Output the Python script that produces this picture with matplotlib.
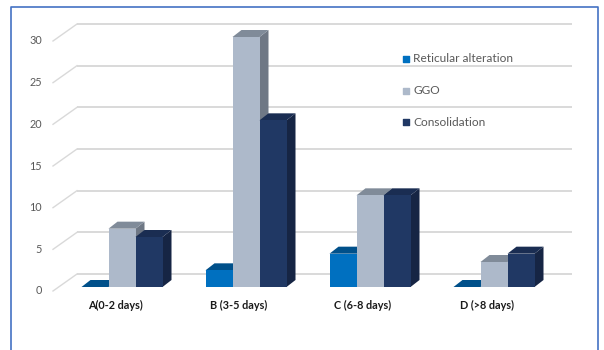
import numpy as np
import matplotlib
matplotlib.use('Agg')
import matplotlib.pyplot as plt
from matplotlib.patches import Polygon

categories = ['A(0-2 days)', 'B (3-5 days)', 'C (6-8 days)', 'D (>8 days)']
series_names = ['Reticular alteration', 'GGO', 'Consolidation']
reticular = [0, 2, 4, 0]
ggo = [7, 30, 11, 3]
consolidation = [6, 20, 11, 4]
yticks = [0, 5, 10, 15, 20, 25, 30]

series = [reticular, ggo, consolidation]
# front, top, side colours of each series
colors = [('#0070c0', '#00508a', '#004a7f'),
          ('#adb9ca', '#808b99', '#6f7885'),
          ('#203864', '#1a2d52', '#162544')]

plt.rcParams['font.family'] = ['Lato', 'DejaVu Sans']

fig = plt.figure(figsize=(6.04, 3.5), dpi=100)
ax = fig.add_axes([0, 0, 1, 1])

# pixel geometry of the reference -> data units
px_x = 1 / 124.0   # category units per pixel
px_y = 0.12        # value units per pixel
ax.set_xlim(-122 * px_x, (604 - 122) * px_x)
ax.set_ylim((287 - 350) * px_y, 287 * px_y)
ax.axis('off')

# back wall gridlines with diagonal to the front floor
gx0 = (53 - 122) * px_x
gx1 = (77 - 122) * px_x
gx2 = (572 - 122) * px_x
for v in yticks:
    yb = v + 13 * px_y
    ax.plot([gx1, gx2], [yb, yb], color='#d9d9d9', lw=1.4, zorder=1,
            solid_capstyle='butt')
    ax.plot([gx0, gx1], [v - 4 * px_y, yb], color='#d9d9d9', lw=1.0, zorder=1)
    ax.text(-80 * px_x, v - 4 * px_y, str(v), ha='right', va='center',
            fontsize=7.8, color='#595959')

# 3d-ish bars
w = 27 * px_x
ddx = 9 * px_x
ddy = 7 * px_y
for j, vals in enumerate(series):
    front, top, side = colors[j]
    for i, v in enumerate(vals):
        x0 = i + (j - 1.5) * w
        x1 = x0 + w
        z = 5 + j * 0.01 + i
        ax.add_patch(Polygon([(x1, 0), (x1 + ddx, ddy), (x1 + ddx, v + ddy), (x1, v)],
                             closed=True, facecolor=side, edgecolor='none', zorder=z))
        ax.add_patch(Polygon([(x0, v), (x0 + ddx, v + ddy), (x1 + ddx, v + ddy), (x1, v)],
                             closed=True, facecolor=top, edgecolor='none', zorder=z))
        if v > 0:
            ax.bar(x0, v, width=w, align='edge', color=front, zorder=z + 0.001)

for i, c in enumerate(categories):
    ax.text(i - 7 * px_x, -18 * px_y, c, ha='center', va='center',
            fontsize=7.8, fontweight='bold', color='#1a1a1a')

# legend
for j, name in enumerate(series_names):
    ly = (287 - (59 + j * 31.5)) * px_y
    ax.scatter([(406 - 122) * px_x], [ly], marker='s', s=24, color=colors[j][0],
               zorder=10)
    ax.text((413 - 122) * px_x, ly, name, ha='left', va='center',
            fontsize=8.6, color='#595959')

# chart frame
ax.plot([(11 - 122) * px_x, (11 - 122) * px_x, (598 - 122) * px_x, (598 - 122) * px_x],
        [(287 - 352) * px_y, (287 - 7) * px_y, (287 - 7) * px_y, (287 - 352) * px_y],
        color='#4472c4', lw=1.2, zorder=20)

fig.savefig('out.png', dpi=100)
